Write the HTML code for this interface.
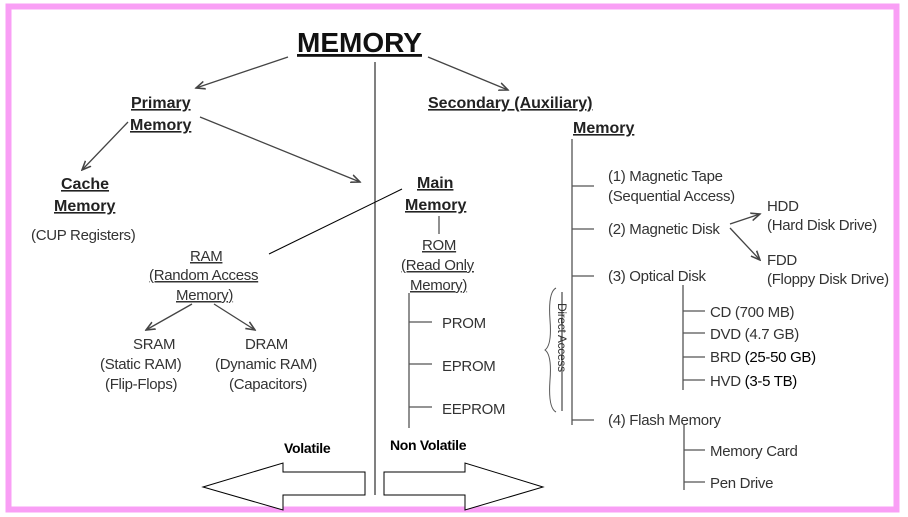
<!DOCTYPE html>
<html><head><meta charset="utf-8"><style>
body{margin:0;background:#fff}
svg{display:block}
text{font-family:"Liberation Sans",Arial,sans-serif;fill:#333;font-size:15px;letter-spacing:-0.3px}
.b{font-weight:bold;fill:#222;font-size:16px;letter-spacing:0}
.u{text-decoration:underline}
</style></head><body>
<svg width="908" height="517" viewBox="0 0 908 517" xmlns="http://www.w3.org/2000/svg">
<rect x="0" y="0" width="908" height="517" fill="#fff"/>
<rect x="8.5" y="6.5" width="888" height="503" fill="none" stroke="#f99ff5" stroke-width="6"/>
<defs><marker id="a" markerWidth="8" markerHeight="8" refX="7" refY="4" orient="auto"><path d="M0,1 L7,4 L0,7" fill="none" stroke="#444" stroke-width="1.2"/></marker></defs>
<g stroke="#444" stroke-width="1.3" fill="none">
<line x1="288" y1="57" x2="196" y2="88" marker-end="url(#a)"/>
<line x1="428" y1="57" x2="508" y2="90" marker-end="url(#a)"/>
<line x1="128" y1="122" x2="82" y2="170" marker-end="url(#a)"/>
<line x1="200" y1="117" x2="360" y2="182" marker-end="url(#a)"/>
<line x1="730" y1="224" x2="760" y2="214" marker-end="url(#a)"/>
<line x1="730" y1="228" x2="760" y2="260" marker-end="url(#a)"/>
<line x1="192" y1="304" x2="146" y2="330" marker-end="url(#a)"/>
<line x1="214" y1="304" x2="255" y2="330" marker-end="url(#a)"/>
</g>
<g stroke="#000" stroke-width="1">
<line x1="375" y1="62" x2="375" y2="495"/>
<line x1="269" y1="254" x2="402" y2="189"/>
</g>
<g stroke="#555" stroke-width="1.3">
<line x1="439" y1="216" x2="439" y2="234"/>
<line x1="409" y1="293" x2="409" y2="428"/>
<line x1="409" y1="322" x2="432" y2="322"/><line x1="409" y1="364" x2="432" y2="364"/><line x1="409" y1="407" x2="432" y2="407"/>
<line x1="572" y1="139" x2="572" y2="425"/>
<line x1="572" y1="186" x2="594" y2="186"/><line x1="572" y1="229" x2="594" y2="229"/><line x1="572" y1="276" x2="594" y2="276"/><line x1="572" y1="420" x2="594" y2="420"/>
<line x1="683" y1="285" x2="683" y2="390"/>
<line x1="683" y1="311" x2="705" y2="311"/><line x1="683" y1="333" x2="705" y2="333"/><line x1="683" y1="357" x2="705" y2="357"/><line x1="683" y1="380" x2="705" y2="380"/>
<line x1="684" y1="425" x2="684" y2="490"/>
<line x1="684" y1="450" x2="705" y2="450"/><line x1="684" y1="482" x2="705" y2="482"/>
<line x1="562" y1="292" x2="562" y2="411"/>
</g>
<path d="M556,288 Q548,292 550,320 Q552,345 545,350 Q552,355 550,380 Q548,408 556,412" fill="none" stroke="#555" stroke-width="1"/>
<text x="0" y="0" transform="translate(558,303) rotate(90)" style="font-size:12px">Direct Access</text>
<path d="M283,472 L365,472 L365,495 L283,495 L283,510 L203,487 L283,463 Z" fill="#fff" stroke="#000" stroke-width="1"/>
<path d="M384,472 L465,472 L465,463 L543,487 L465,510 L465,495 L384,495 Z" fill="#fff" stroke="#000" stroke-width="1"/>
<text x="297" y="52" class="b u" style="font-size:28px;fill:#111">MEMORY</text>
<text x="131" y="108" class="b u">Primary</text>
<text x="130" y="130" class="b u">Memory</text>
<text x="428" y="108" class="b u">Secondary (Auxiliary)</text>
<text x="573" y="133" class="b u">Memory</text>
<text x="61" y="189" class="b u">Cache</text>
<text x="54" y="211" class="b u">Memory</text>
<text x="31" y="240">(CUP Registers)</text>
<text x="417" y="188" class="b u">Main</text>
<text x="405" y="210" class="b u">Memory</text>
<text x="190" y="261" class="u">RAM</text>
<text x="149" y="280" class="u">(Random Access</text>
<text x="176" y="300" class="u">Memory)</text>
<text x="422" y="250" class="u">ROM</text>
<text x="401" y="270" class="u">(Read Only</text>
<text x="410" y="290" class="u">Memory)</text>
<text x="133" y="349">SRAM</text><text x="100" y="369">(Static RAM)</text><text x="105" y="389">(Flip-Flops)</text>
<text x="245" y="349">DRAM</text><text x="215" y="369">(Dynamic RAM)</text><text x="229" y="389">(Capacitors)</text>
<text x="442" y="328">PROM</text>
<text x="442" y="371">EPROM</text>
<text x="442" y="414">EEPROM</text>
<text x="608" y="181">(1) Magnetic Tape</text>
<text x="608" y="201">(Sequential Access)</text>
<text x="608" y="234">(2) Magnetic Disk</text>
<text x="767" y="211">HDD</text><text x="767" y="230">(Hard Disk Drive)</text>
<text x="767" y="265">FDD</text><text x="767" y="284">(Floppy Disk Drive)</text>
<text x="608" y="281">(3) Optical Disk</text>
<text x="710" y="317">CD (700 MB)</text>
<text x="710" y="339">DVD (4.7 GB)</text>
<text x="710" y="362">BRD <tspan fill="#000">(25-50 GB)</tspan></text>
<text x="710" y="386">HVD <tspan fill="#000">(3-5 TB)</tspan></text>
<text x="608" y="425">(4) Flash Memory</text>
<text x="710" y="456">Memory Card</text>
<text x="710" y="488">Pen Drive</text>
<text x="284" y="453" style="font-weight:bold;fill:#000;font-size:14px">Volatile</text>
<text x="390" y="450" style="font-weight:bold;fill:#000;font-size:14px">Non Volatile</text>
</svg>
</body></html>
